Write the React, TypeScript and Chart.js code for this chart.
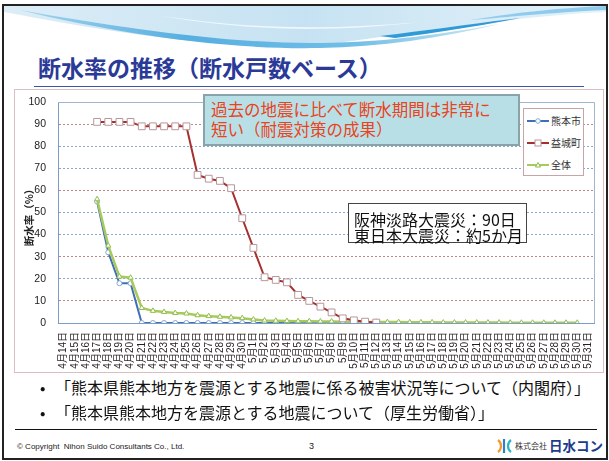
import React, { useEffect, useRef } from 'react';
import { Chart, registerables } from 'chart.js';

Chart.register(...registerables);

const categories = [
  '4月14日', '4月15日', '4月16日', '4月17日', '4月18日', '4月19日', '4月20日', '4月21日',
  '4月22日', '4月23日', '4月24日', '4月25日', '4月26日', '4月27日', '4月28日', '4月29日', '4月30日',
  '5月1日', '5月2日', '5月3日', '5月4日', '5月5日', '5月6日', '5月7日', '5月8日', '5月9日', '5月10日',
  '5月11日', '5月12日', '5月13日', '5月14日', '5月15日', '5月16日', '5月17日', '5月18日', '5月19日',
  '5月20日', '5月21日', '5月22日', '5月23日', '5月24日', '5月25日', '5月26日', '5月27日', '5月28日',
  '5月29日', '5月30日', '5月31日',
];

const seriesNames = ['熊本市', '益城町', '全体'];

// 熊本市
const kumamotoCity = [
  null, null, null, 55, 32, 18, 18, 0,
  0, 0, 0, 0, 0, 0, 0, 0, 0,
  0, 0, 0, 0, 0, 0, 0, 0, 0, 0,
  0, 0, null, null, null, null, null, null, null,
  null, null, null, null, null, null, null, null, null,
  null, null, null,
];

// 益城町
const mashikiTown = [
  null, null, null, 91, 91, 91, 91, 89,
  89, 89, 89, 89, 67, 65.3, 64.3, 61, 47.4,
  34, 20.7, 19.5, 18.4, 12.7, 10, 7.4, 4.8, 2.1, 1.2,
  0.6, 0.2, null, null, null, null, null, null, null,
  null, null, null, null, null, null, null, null, null,
  null, null, null,
];

// 全体
const overall = [
  null, null, null, 56, 35, 21, 20.5, 6.8,
  5.5, 5.0, 4.5, 4.3, 3.5, 3.1, 2.8, 2.5, 2.2,
  1.6, 1.1, 1.0, 0.9, 0.8, 0.8, 0.7, 0.7, 0.6, 0.6,
  0.5, 0.5, 0.4, 0.4, 0.3, 0.3, 0.3, 0.2, 0.2,
  0.2, 0.2, 0.2, 0.2, 0.1, 0.1, 0.1, 0.1, 0.1,
  0.1, 0.1, null,
];

const yMin = 0;
const yMax = 100;
const yStep = 10;
const redGridValues = [10, 30, 60, 90];

const JP = '"Noto Sans CJK JP", "Noto Sans", sans-serif';
const TICKFONT = '"Liberation Sans", Arial, "Noto Sans CJK JP", sans-serif';

const plotBorder = {
  id: 'plotBorder',
  beforeDatasetsDraw(chart: any) {
    const { ctx, chartArea } = chart;
    const { left, top, right, bottom } = chartArea;
    ctx.save();
    ctx.strokeStyle = '#9fb6cc';
    ctx.lineWidth = 1;
    ctx.beginPath();
    ctx.moveTo(left, top + 0.5);
    ctx.lineTo(right + 0.5, top + 0.5);
    ctx.lineTo(right + 0.5, bottom);
    ctx.stroke();
    ctx.restore();
  },
};

function ChartCanvas() {
  const ref = useRef<HTMLCanvasElement | null>(null);
  useEffect(() => {
    if (!ref.current) return;
    const chart = new Chart(ref.current, {
      type: 'line',
      data: {
        labels: categories,
        datasets: [
          {
            label: seriesNames[0],
            data: kumamotoCity,
            borderColor: '#3f6fb8',
            borderWidth: 2,
            pointStyle: 'circle',
            pointRadius: 2.5,
            pointBorderWidth: 1,
            pointBackgroundColor: '#ffffff',
            pointBorderColor: '#86a6d2',
            tension: 0,
            order: 2,
          },
          {
            label: seriesNames[1],
            data: mashikiTown,
            borderColor: '#a5312f',
            borderWidth: 2,
            pointStyle: 'rect',
            pointRadius: 4.8,
            pointBorderWidth: 1,
            pointBackgroundColor: '#ffffff',
            pointBorderColor: '#b8979c',
            tension: 0,
            order: 0,
          },
          {
            label: seriesNames[2],
            data: overall,
            borderColor: '#a8c95c',
            borderWidth: 2.5,
            pointStyle: 'triangle',
            pointRadius: 3,
            pointBorderWidth: 1,
            pointBackgroundColor: '#ffffff',
            pointBorderColor: '#8fbf4a',
            tension: 0,
            order: 1,
          },
        ],
      },
      options: {
        responsive: false,
        animation: false,
        devicePixelRatio: 1,
        layout: { padding: { left: 0, right: 10, top: 13, bottom: 0 } },
        plugins: {
          legend: { display: false },
          tooltip: { enabled: false },
          title: { display: false },
        },
        scales: {
          x: {
            type: 'category',
            offset: true,
            grid: { display: false, drawTicks: false },
            border: { display: true, color: '#7a9cc6', width: 1 },
            ticks: {
              autoSkip: false,
              minRotation: 90,
              maxRotation: 90,
              padding: 9,
              color: '#2a1f1f',
              font: { size: 10, family: TICKFONT },
            },
            afterFit: (s: any) => {
              s.height = 50;
              s.paddingLeft = 0;
              s.paddingRight = 0;
            },
          },
          y: {
            min: yMin,
            max: yMax,
            ticks: {
              stepSize: yStep,
              padding: 12,
              color: '#222222',
              font: { size: 10.5, family: TICKFONT },
            },
            grid: {
              drawTicks: false,
              lineWidth: 1,
              color: (c: any) =>
                redGridValues.includes(c.tick?.value) ? '#c08585' : '#86a9cc',
            },
            border: { display: true, color: '#7a9cc6', width: 1, dash: [2, 2] },
            afterFit: (s: any) => {
              s.width = 44;
              s.paddingTop = 0;
              s.paddingBottom = 0;
            },
          },
        },
      },
      plugins: [plotBorder],
    });
    return () => chart.destroy();
  }, []);
  return (
    <canvas
      ref={ref}
      width={590}
      height={284}
      style={{ position: 'absolute', left: 14, top: 89, width: 590, height: 284 }}
    />
  );
}

function LegendSample({ kind }: { kind: number }) {
  if (kind === 0) {
    return (
      <svg width={22} height={10} style={{ position: 'absolute', left: 3, top: 0 }}>
        <line x1={0} y1={5} x2={22} y2={5} stroke="#3f6fb8" strokeWidth={2} />
        <circle cx={11} cy={5} r={2.3} fill="#fff" stroke="#86a6d2" strokeWidth={1} />
      </svg>
    );
  }
  if (kind === 1) {
    return (
      <svg width={22} height={10} style={{ position: 'absolute', left: 3, top: 0 }}>
        <line x1={0} y1={5} x2={22} y2={5} stroke="#a5312f" strokeWidth={2} />
        <rect x={8} y={2} width={6} height={6} fill="#fff" stroke="#b8979c" strokeWidth={1} />
      </svg>
    );
  }
  return (
    <svg width={22} height={10} style={{ position: 'absolute', left: 3, top: 0 }}>
      <line x1={0} y1={5} x2={22} y2={5} stroke="#a8c95c" strokeWidth={2} />
      <polygon points="11,2.5 13.5,7 8.5,7" fill="#fff" stroke="#8fbf4a" strokeWidth={1} />
    </svg>
  );
}

export default function App() {
  const legendRows = [12, 33.5, 56];
  return (
    <div
      style={{
        position: 'absolute',
        left: 0,
        top: 0,
        width: 609,
        height: 461,
        background: '#ffffff',
        overflow: 'hidden',
        fontFamily: JP,
      }}
    >
      {/* wave decoration */}
      <svg width={609} height={60} style={{ position: 'absolute', left: 0, top: 0 }}>
        <defs>
          <linearGradient id="wv1" x1="0" y1="0" x2="1" y2="0">
            <stop offset="0" stopColor="#dcedf7" />
            <stop offset="0.5" stopColor="#c6e2f2" />
            <stop offset="1" stopColor="#e4f2fa" />
          </linearGradient>
          <linearGradient id="wv2" x1="0" y1="0" x2="1" y2="0">
            <stop offset="0" stopColor="#a2d3ee" />
            <stop offset="0.35" stopColor="#56afe0" />
            <stop offset="0.7" stopColor="#72bfe8" />
            <stop offset="1" stopColor="#cfe8f5" />
          </linearGradient>
        </defs>
        <path d="M4,6 L606,6 L606,12 C520,16 430,30 330,44 C230,52 110,32 4,12 Z" fill="url(#wv1)" />
        <path
          d="M20,10 C120,28 230,44 320,43 C390,42 440,34 500,24 C440,38 380,47 320,48 C220,50 110,32 20,10 Z"
          fill="url(#wv2)"
        />
        <path d="M380,36 C430,30 470,24 520,18 C480,26 440,32 395,38 Z" fill="#2f9ad6" />
        <path d="M470,20 C520,12 560,8 606,6 L606,10 C560,12 520,16 470,20 Z" fill="#8fcbec" />
        <path d="M150,14 C240,30 320,34 420,22 C330,30 250,30 150,14 Z" fill="#ffffff" opacity={0.7} />
      </svg>

      {/* slide border */}
      <div
        style={{
          position: 'absolute',
          left: 2,
          top: 4,
          width: 602,
          height: 452,
          border: '2px solid #222',
        }}
      />

      {/* title */}
      <div
        style={{
          position: 'absolute',
          left: 38,
          top: 55,
          lineHeight: '24px',
          fontSize: 23,
          fontWeight: 700,
          color: '#2b3a97',
          whiteSpace: 'nowrap',
        }}
      >
        断水率の推移（断水戸数ベース）
      </div>
      <div style={{ position: 'absolute', left: 34, top: 86, width: 550, height: 1, background: '#3a55a8' }} />

      {/* chart frame */}
      <div
        style={{
          position: 'absolute',
          left: 14,
          top: 89,
          width: 588,
          height: 282,
          border: '1px solid #d9bfbf',
          background: '#fff',
        }}
      />
      <ChartCanvas />

      {/* y axis title */}
      <div
        style={{
          position: 'absolute',
          left: 29,
          top: 215,
          transform: 'translate(-50%, -50%) rotate(-90deg)',
          fontSize: 10.5,
          fontWeight: 700,
          color: '#222',
          whiteSpace: 'nowrap',
          lineHeight: '12px',
        }}
      >
        断水率（%）
      </div>

      {/* legend */}
      <div
        style={{
          position: 'absolute',
          left: 523,
          top: 108,
          width: 59,
          height: 66,
          border: '1px solid #c4a6a6',
          background: '#fff',
        }}
      >
        {seriesNames.map((n, i) => (
          <div key={n} style={{ position: 'absolute', left: 0, top: legendRows[i] - 5, width: 59, height: 10 }}>
            <LegendSample kind={i} />
            <div
              style={{
                position: 'absolute',
                left: 27,
                top: -1,
                fontSize: 10,
                lineHeight: '12px',
                color: '#333',
                whiteSpace: 'nowrap',
              }}
            >
              {n}
            </div>
          </div>
        ))}
      </div>

      {/* annotation box 1 */}
      <div
        style={{
          position: 'absolute',
          left: 203,
          top: 94,
          width: 307,
          height: 44,
          border: '2px solid #8aa3a8',
          background: '#b9dfe6',
          color: '#e8431c',
          fontSize: 16.5,
          lineHeight: '19.5px',
          paddingLeft: 6,
          paddingTop: 4,
          boxSizing: 'content-box',
          whiteSpace: 'nowrap',
          overflow: 'visible',
        }}
      >
        <div style={{ width: 301 }}>過去の地震に比べて断水期間は非常に</div>
        <div>短い（耐震対策の成果）</div>
      </div>

      {/* annotation box 2 */}
      <div
        style={{
          position: 'absolute',
          left: 348,
          top: 203,
          width: 177,
          height: 38,
          border: '1px solid #444',
          background: '#fff',
          color: '#111',
          fontSize: 16,
          lineHeight: '15.5px',
          whiteSpace: 'nowrap',
        }}
      >
        <div style={{ position: 'absolute', left: 5, top: 8 }}>阪神淡路大震災：90日</div>
        <div style={{ position: 'absolute', left: 5, top: 23.5 }}>東日本大震災：約5か月</div>
      </div>

      {/* sources */}
      <div style={{ position: 'absolute', left: 40, top: 376, fontSize: 16, lineHeight: '22px', color: '#111', whiteSpace: 'nowrap' }}>
        •
      </div>
      <div style={{ position: 'absolute', left: 55, top: 376, fontSize: 16, lineHeight: '22px', color: '#111', whiteSpace: 'nowrap' }}>
        「熊本県熊本地方を震源とする地震に係る被害状況等について（内閣府）」
      </div>
      <div style={{ position: 'absolute', left: 40, top: 401, fontSize: 16, lineHeight: '22px', color: '#111', whiteSpace: 'nowrap' }}>
        •
      </div>
      <div style={{ position: 'absolute', left: 55, top: 401, fontSize: 16, lineHeight: '22px', color: '#111', whiteSpace: 'nowrap' }}>
        「熊本県熊本地方を震源とする地震について（厚生労働省）」
      </div>

      {/* footer */}
      <div style={{ position: 'absolute', left: 15, top: 429, width: 582, height: 1, background: '#111' }} />
      <div
        style={{
          position: 'absolute',
          left: 17,
          top: 442,
          fontSize: 8,
          lineHeight: '10px',
          color: '#222',
          fontFamily: '"Liberation Sans", Arial, sans-serif',
          whiteSpace: 'nowrap',
        }}
      >
        © Copyright&nbsp; Nihon Suido Consultants Co., Ltd.
      </div>
      <div
        style={{
          position: 'absolute',
          left: 309,
          top: 441,
          fontSize: 9,
          lineHeight: '11px',
          color: '#222',
          fontFamily: '"Liberation Sans", Arial, sans-serif',
        }}
      >
        3
      </div>
      <svg width={18} height={16} style={{ position: 'absolute', left: 496, top: 438 }}>
        <path d="M2,2 C6,5 6,11 2,14" stroke="#f29a2e" strokeWidth={2.2} fill="none" />
        <line x1={8} y1={1} x2={8} y2={15} stroke="#2f7fc8" strokeWidth={2.2} />
        <path d="M15,2 C11,5 11,11 15,14" stroke="#2fb3c4" strokeWidth={2.2} fill="none" />
      </svg>
      <div
        style={{
          position: 'absolute',
          left: 515,
          top: 441,
          fontSize: 8,
          lineHeight: '10px',
          color: '#333',
          whiteSpace: 'nowrap',
        }}
      >
        株式会社
      </div>
      <div
        style={{
          position: 'absolute',
          left: 549,
          top: 437,
          fontSize: 13.5,
          fontWeight: 700,
          lineHeight: '16px',
          color: '#1c3c8c',
          whiteSpace: 'nowrap',
        }}
      >
        日水コン
      </div>
    </div>
  );
}
